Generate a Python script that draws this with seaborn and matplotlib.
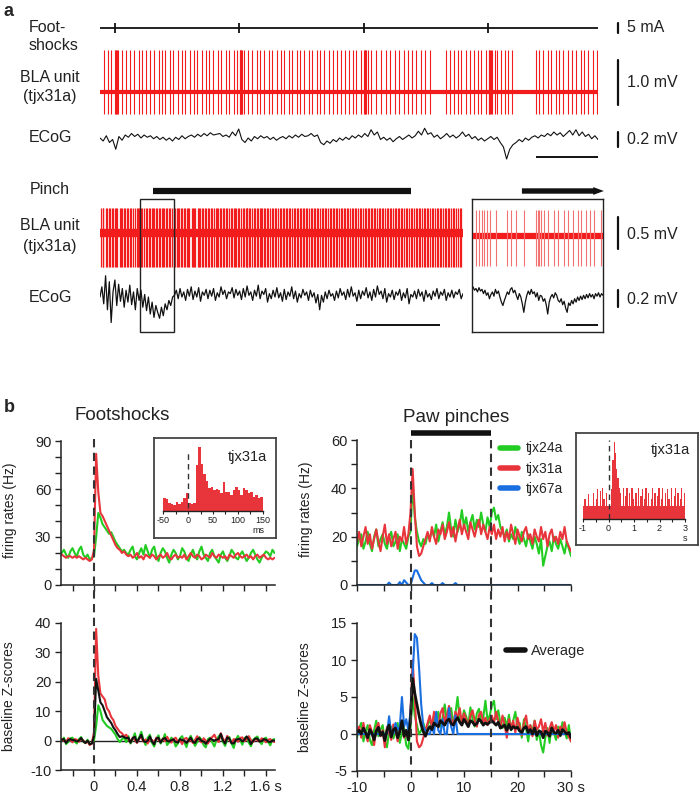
"""BLA unit responses to footshocks and paw pinches (raw traces + PSTHs)."""

import matplotlib

matplotlib.use("Agg")
import matplotlib.pyplot as plt
import numpy as np
import pandas as pd
import seaborn as sns
from matplotlib.lines import Line2D
from matplotlib.patches import Rectangle
from matplotlib.transforms import blended_transform_factory as blend

FIG_W, FIG_H = 700, 798
RED, GREEN, BLUE, BLACK = "#e8353c", "#22cc22", "#1a6fe0", "#111111"
TRACE_RED = "#f21c1c"
PALE_RED = "#f27272"

# ---------------- panel a : raw traces ----------------
TOP_DURATION_S = 40.0
SHOCK_TIMES_S = [1.2, 11.2, 21.2, 31.2]
TOP_SPIKES_S = [
    0.3, 0.62, 0.9, 1.21, 1.25, 1.3, 1.36, 1.48, 1.8, 2.1, 2.44, 2.72, 3.1, 3.4, 3.68, 4.04, 4.32,
    4.7, 5.0, 5.26, 5.64, 5.9, 6.24, 6.6, 6.82, 7.2, 7.56, 7.8, 8.16, 8.5, 8.74, 9.1, 9.44, 9.72,
    10.1, 10.4, 10.76, 11.0, 11.21, 11.25, 11.3, 11.34, 11.44, 11.6, 11.92, 12.24, 12.6, 12.84,
    13.2, 13.56, 13.8, 14.2, 14.5, 14.8, 15.16, 15.4, 15.8, 16.1, 16.4, 16.76, 17.04, 17.4, 17.7,
    18.0, 18.4, 18.68, 19.0, 19.36, 19.64, 20.0, 20.3, 20.6, 20.96, 21.21, 21.25, 21.3, 21.36,
    21.5, 21.8, 22.2, 22.6, 23.0, 23.32, 23.7, 24.0, 24.4, 24.7, 25.1, 25.4, 25.8, 26.1, 26.5,
    27.8, 28.1, 28.4, 28.76, 29.0, 29.4, 29.72, 30.0, 30.36, 30.64, 31.0, 31.21, 31.26, 31.32,
    31.4, 31.52, 31.7, 31.9, 32.2, 32.5, 32.8, 33.1, 35.0, 35.3, 35.6, 35.96, 36.24, 36.6, 36.9,
    37.2, 37.6, 37.9, 38.2, 38.6, 38.9, 39.2, 39.6, 39.9,
]
TOP_SPIKE_UP_MV, TOP_SPIKE_DOWN_MV = 0.93, -0.49
ECOG_TOP_UV = [
    0, -40, 30, -60, -20, -150, 20, -30, 40, 10, 60, 20, 50, 0, 40, 10, 30, -10, 20, -20, 10, -30,
    0, -40, 10, -20, 30, -10, 20, 40, 10, 50, 20, 60, 30, 70, 40, 50, 60, 20, 40, 10, 80, 30, 120,
    -20, -60, 0, -40, 20, -10, 30, 0, 20, -20, 10, -30, 0, 20, -10, 30, 0, 40, 10, 50, 20, 30, 60,
    20, 40, -60, -90, -40, -70, -20, -50, 0, -30, 10, -20, 30, 0, 40, 10, 60, 20, 110, 40, 80, -20,
    10, -30, 0, -50, -10, 20, -20, 10, 40, 0, 30, 90, 40, 130, 50, 70, 10, 40, -10, 20, 60, 10, 40,
    0, 30, 80, 20, 50, -10, 20, -30, 0, -40, -10, 20, -20, 10, -60, -120, -280, -150, -90, -60,
    -20, -50, 0, -30, 10, 30, 0, 40, 20, 60, 30, 80, 40, 70, 20, 60, 100, 40, 110, 30, 80, 20, 50,
    -10, 30, -20,
]
TOP_TIME_BAR_S = 5.0

PINCH_DURATION_S = 43.0
PINCH_ON_S, PINCH_OFF_S = 6.3, 36.8
PINCH_SPIKES_S = [
    0.12, 0.3, 0.41, 0.66, 0.8, 1.02, 1.15, 1.38, 1.5, 1.77, 1.9, 2.05, 2.31, 2.45, 2.6, 2.88, 3.0,
    3.22, 3.35, 3.6, 3.71, 3.95, 4.1, 4.33, 4.5, 4.62, 4.9, 5.02, 5.2, 5.45, 5.58, 5.8, 5.93, 6.15,
    6.3, 6.42, 6.6, 6.74, 6.95, 7.1, 7.3, 7.42, 7.6, 7.85, 7.97, 8.2, 8.33, 8.5, 8.78, 8.9, 9.1,
    9.25, 9.4, 9.62, 9.75, 9.98, 10.1, 10.3, 10.45, 10.6, 10.85, 11.0, 11.18, 11.3, 11.55, 11.7,
    11.88, 12.05, 12.2, 12.42, 12.55, 12.8, 12.92, 13.15, 13.3, 13.45, 13.7, 13.82, 14.0, 14.2,
    14.35, 14.6, 14.72, 14.95, 15.1, 15.25, 15.5, 15.62, 15.85, 16.0, 16.15, 16.4, 16.52, 16.75,
    16.9, 17.1, 17.25, 17.4, 17.45, 17.6, 17.8, 17.95, 18.2, 18.32, 18.55, 18.7, 18.9, 19.05, 19.2,
    19.45, 19.6, 19.8, 19.95, 20.1, 20.35, 20.5, 20.7, 20.85, 21.05, 21.3, 21.42, 21.65, 21.8,
    22.0, 22.15, 22.4, 22.55, 22.7, 22.95, 23.1, 23.3, 23.45, 23.7, 23.82, 24.05, 24.2, 24.4,
    24.55, 24.8, 24.95, 25.1, 25.35, 25.5, 25.7, 25.85, 26.05, 26.3, 26.42, 26.65, 26.8, 27.0,
    27.2, 27.35, 27.6, 27.75, 27.95, 28.1, 28.3, 28.5, 28.65, 28.9, 29.05, 29.25, 29.4, 29.6,
    29.8, 30.0, 30.2, 30.35, 30.6, 30.75, 30.95, 31.1, 31.35, 31.5, 31.7, 31.85, 32.1, 32.25,
    32.45, 32.6, 32.85, 33.0, 33.2, 33.4, 33.55, 33.8, 33.95, 34.15, 34.3, 34.5, 34.7, 34.9,
    35.05, 35.3, 35.45, 35.65, 35.8, 36.05, 36.2, 36.4, 36.6, 36.8, 37.0, 37.2, 37.4, 37.55, 37.8,
    37.95, 38.15, 38.35, 38.5, 38.75, 38.9, 39.1, 39.3, 39.5, 39.65, 39.9, 40.05, 40.25, 40.45,
    40.6, 40.85, 41.0, 41.2, 41.4, 41.55, 41.8, 41.95, 42.2, 42.35, 42.6, 42.8,
]
PINCH_SPIKE_UP_MV, PINCH_SPIKE_DOWN_MV = 0.39, -0.53
ECOG_PINCH_UV = [
    0, 120, -80, 250, -150, 180, -300, 60, 200, -100, 150, -50, 100, -120, 80, -60, 140, -90, 60,
    -150, 100, -40, 80, -120, 30, -160, 0, -200, -60, -240, -100, -180, -250, -120, -220, -80,
    -150, -40, -100, 0, 20, 80, -20, 100, 0, 60, -40, 90, 10, 120, -30, 70, 0, 110, -50, 60, 20,
    90, -20, 80, 10, 100, -40, 50, 0, 120, 30, 80, -20, 60, 40, 110, -10, 90, 20, 70, -30, 100, 0,
    130, 20, 60, -40, 80, 10, 140, -20, 70, 30, 100, -60, 40, -20, 80, 0, 110, -10, 50, -50, 90,
    -30, 60, 10, 120, -20, 70, -60, 40, -10, 90, 20, 60, -40, 80, 0, 50, -70, 30, -150, 20, -60,
    60, -20, 80, 10, 40, -40, 70, -10, 100, 20, 60, -30, 90, 0, 120, 10, 50, -50, 80, -20, 70, 20,
    110, -10, 60, -40, 90, 0, 130, 30, 70, -20, 100, -60, 40, 0, 80, -30, 60, 20, 90, -40, 50,
    -10, 100, -80, 30, 0, 70, -20, 90, 10, 60, -50, 80, 0, 40, -30, 70, 10, 100, -20, 60, 20, 90,
    -40, 50, 0, 80, -10, 60, 30, 90, -20, 40,
]
PINCH_TIME_BAR_S = (30.3, 40.3)

BOX_START_S, BOX_LEN_S = 4.75, 4.06
BOX_ARROW_S = (1.56, 4.12)
BOX_SPIKES_S = [
    0.09, 0.19, 0.28, 0.34, 0.44, 0.53, 0.72, 1.06, 1.19, 1.34, 1.59, 1.97, 2.03, 2.06, 2.13, 2.22,
    2.34, 2.53, 2.66, 2.84, 2.97, 3.13, 3.28, 3.38, 3.53, 3.66, 3.78, 4.0,
]
BOX_SPIKE_UP_MV, BOX_SPIKE_DOWN_MV = 0.40, -0.47
ECOG_BOX_UV = [
    120, 80, 100, 60, 110, 70, 90, 40, 80, 20, 50, -20, 30, 60, 10, 90, 40, 70, 0, -60, -100, -40,
    10, 60, 30, 90, 110, 50, 80, 20, -30, 40, 0, -80, -180, -60, 20, 70, 30, 90, 40, 60, 0, 50,
    -40, 20, 10, -50, -20, -90, -200, -60, 0, 30, -10, 50, 20, -40, -60, -20, -90, -50, -130,
    -180, -70, -100, -40, -80, -20, -60, 0, -40, 10, -30, 20, -20, 30, -10, 40, 0, 30, -20, 40,
    10, 50, 0, 40, 20,
]
BOX_TIME_BAR_S = (2.9, 3.9)

# ---------------- panel b : footshock PSTHs (20 ms bins) ----------------
FS_START_S, FS_STEP_S = -0.30, 0.02
FS_RATE_24A = [
    20, 22, 19, 17, 21, 23, 20, 18, 22, 24, 19, 17, 19, 16, 17,
    18, 30, 45, 42, 38, 36, 34, 32, 33, 30, 27, 25, 23, 21, 22, 20,
    19, 22, 24, 18, 16, 20, 23, 19, 25, 21, 17, 22, 24, 18, 15, 20, 23, 21, 17, 14, 19, 22, 20,
    16, 18, 23, 21, 17, 15, 19, 22, 18, 16, 21, 24, 19, 17, 15, 20, 22, 18, 16, 14, 19, 21, 17,
    15, 18, 22, 20, 17, 16, 19, 21, 18, 15, 17, 20, 22, 19, 16, 14, 17, 19, 21, 20, 18, 22, 20,
]
FS_RATE_31A = [
    19, 18, 17, 18, 18, 17, 18, 17, 18, 17, 16, 17, 16, 15, 16,
    22, 82, 58, 45, 43, 40, 37, 34, 31, 28, 25, 23, 22, 20, 21, 19,
    18, 19, 17, 18, 20, 17, 18, 16, 19, 18, 17, 19, 18, 16, 18, 19, 17, 18, 20, 17, 16, 18, 19,
    17, 18, 17, 19, 16, 18, 20, 18, 17, 19, 18, 16, 17, 19, 18, 17, 20, 18, 17, 19, 18, 17, 18,
    16, 19, 18, 17, 19, 20, 18, 17, 18, 19, 17, 18, 16, 18, 19, 17, 18, 19, 17, 16, 17, 16, 17,
]
FS_Z_24A = [
    0, 1, -1.2, -0.5, 0.8, 1, -0.3, -1, 0.5, 1.2, -0.4, -0.9, 0.3, -1.3, -0.8,
    0, 5, 12, 10, 7, 6, 5, 4.5, 4, 3, 2, 0.5, -0.5, 0.5, 1, -0.5,
    1.5, -1, 0.5, 2.5, -0.5, 1, 3, 0.2, -1.5, 1, 2, -0.8, -2, 0.5, 1.8, -1, 0.3, 2.2, -1.5, -0.6,
    1, 0.2, -2, -1, 0.8, 1.5, -0.5, -2.2, 0.4, 1.6, 0, -1.8, -0.5, 1.2, 0.3, -1.5, -2.3, 0.5, 1,
    -0.6, -2, 0.3, 1.5, 2.2, -0.5, -1.8, 0.6, 1.2, -1, -2.5, 0.4, 1.6, 0.2, -1.4, 0.8, 1.3, -0.7,
    -1.9, 0.2, 0.9, 1.4, -0.3, -1.2, 0.6, 1, -0.5, -1.6, 0.3, 0.5,
]
FS_Z_31A = [
    0.5, 0, -0.5, 0.8, 0.2, -0.6, 0.5, 0.3, -0.4, 0.6, 0, -0.8, -0.3, -1.5, -1,
    3, 38, 22, 16, 15, 14, 11, 10, 8, 7, 5, 4, 3, 2.5, 1.5, 2,
    0.5, -0.5, 1, 0.2, -0.8, 0.6, 1.2, -0.3, 0.4, -1, 0.8, 0.2, -0.6, 1, 0.3, -0.5, 0.7, -0.2,
    1.3, 0, -0.7, 0.5, 1, -0.4, 0.2, -1.2, 0.6, 0.9, -0.3, 0.4, -0.8, 0.2, 1.5, 0.3, -0.6, 0.8,
    0, -1, 0.5, 1.2, 2, 0.4, -0.5, 2.5, 0.6, -0.3, 1.6, 0.2, -0.8, 0.5, 0.3, -0.4, 0.9, 1.1,
    -0.2, 0.4, 1.5, 0.2, -0.5, 0.6, 0.1, -0.3, 0.8, 0.2, -0.6, 0.3, 0.5, -0.2, -0.5,
]
FS_Z_AVG = [
    0.3, 0.5, -0.8, 0.1, 0.5, 0.2, 0.1, -0.3, 0, 0.9, -0.2, -0.8, 0, -1.2, -1,
    1.5, 21, 17, 13, 12, 10, 8, 7, 6, 4.5, 3.5, 2.2, 1.2, 1.5, 1.2, 0.8,
    1, -0.7, 0.8, 1.3, -0.6, 0.8, 2, -0.1, -0.5, 0, 1.4, -0.3, -1.3, 0.7, 1, -0.7, 0.5, 0.9,
    -0.1, -0.3, 0.2, 0.4, -0.5, -0.7, 0.5, 0.2, 0, -0.8, 0.1, 1, -0.4, -0.8, 0.5, 0.8, -0.1,
    -0.3, -1.1, -0.2, 0.7, 0.3, 0, 0.3, 0.5, 2.3, 0, -1, 1.1, 0.7, -0.9, -1, 0.3, 0.5, 0.5, -0.3,
    0.3, 1.4, 0.4, -1.2, -0.1, 0.7, 0.7, -0.3, -0.2, 0.5, 0.3, -0.3, -0.5, 0, 0,
]

# ---------------- panel b : paw-pinch PSTHs (0.4 s bins) ----------------
PP_START_S, PP_STEP_S = -10.0, 0.4
PINCH_WINDOW_S = (0.0, 15.0)
PP_RATE_24A = [
    16, 19, 21, 15, 18, 22, 17, 14, 20, 23, 16, 19, 21, 17, 15, 20, 22, 16, 18, 21, 14, 19, 17, 15,
    20, 22, 42, 28, 22, 18, 16, 19,
    17, 21, 19, 23, 20, 25, 18, 22, 26, 21, 24, 30, 23, 20, 27, 22, 25, 31, 24, 28, 22, 26, 29, 23,
    27, 24, 30, 25, 22, 28, 24,
    30, 32, 27, 29, 24, 22, 20, 23, 18, 21, 19, 24, 20, 17, 22, 19, 16, 21, 18, 15, 20, 17, 13, 19,
    8, 12, 16, 18, 14, 20, 17, 15, 19, 16, 13, 18, 15, 12,
]
PP_RATE_31A = [
    18, 22, 16, 20, 24, 17, 21, 15, 19, 23, 18, 14, 20, 25, 17, 21, 16, 19, 22, 15, 20, 18, 24, 17,
    21, 30, 48, 30, 16, 12, 13, 16,
    19, 22, 18, 24, 20, 17, 23, 21, 25, 19, 22, 26, 20, 24, 18, 23, 27, 21, 25, 22, 19, 26, 23, 20,
    24, 27, 21, 25, 22, 19, 24,
    21, 25, 19, 23, 20, 24, 18, 22, 19, 25, 21, 17, 23, 20, 18, 22, 24, 19, 21, 17, 23, 20, 18, 24,
    19, 22, 16, 21, 23, 18, 20, 17, 22, 19, 24, 18, 16, 14,
]
PP_RATE_67A = [
    0, 0, 0, 0, 0, 0, 0, 0, 0, 0, 0, 0, 0, 0, 0, 1, 0, 0, 0, 0, 1.2, 0, 2, 1, 0,
    0, 3, 6, 6, 4, 2, 1, 0, 0, 0, 0.8, 0, 0, 0, 0, 0.8, 0, 0, 0, 0, 0, 0.8, 0, 0, 0,
    0, 0, 0, 0, 0, 0, 0, 0, 0, 0, 0, 0, 0, 0, 0, 0, 0, 0, 0, 0, 0, 0, 0, 0, 0,
    0, 0, 0, 0, 0, 0, 0, 0, 0, 0, 0, 0, 0, 0, 0, 0, 0, 0, 0, 0, 0, 0, 0, 0, 0, 0,
]
PP_Z_24A = [
    -0.5, 0.8, 1.5, -1, 0.3, 1.2, -0.8, -1.5, 0.5, 1.8, -0.3, 0.6, 1.2, -1, -1.8, 0.4, 1, -0.6,
    0.3, 1.5, -1.2, 0.2, 0.8, -1.5, -2,
    1, 5, 2.5, 1.2, 0, 0.5, 1.5,
    0.3, 1.2, 2, 0.8, 2.5, 1.5, 3, 1, 2.2, 4, 1.5, 2.6, 3.5, 1.2, 2.8, 5, 2, 1.5, 3.2, 2.4, 1.2,
    3.6, 2, 1, 2.8, 3.4, 1.5, 2.2, 4.5, 1.8, 2.5,
    3.8, 4.5, 2, 3.2, 1.5, 0.8, 2.2, 1, 2.6, 0.5, 1.8, 3, 0.8, 1.5, -0.5, 2, 0.8, -1, 1.2, 0.3,
    1.8, -0.8, 0.5, -1.5, -2.5, -0.5, 0.8, -1.2, 1.5, 0.2, -0.8, 1, -0.3, 1.6, 0.4, -0.6, 1.2, -1,
]
PP_Z_31A = [
    0.5, 1, -0.5, 1.5, 0, -1, 1.2, 0.3, -1.5, 0.8, 1.5, -0.3, 0.5, -1.8, 1, 0.2, -0.8, 1.3, 0.5,
    -1, 0.8, 1.6, -0.5, 0.3, -0.8,
    3, 10, 5, -1, -1.8, -1.5, -0.5,
    0.5, 1.5, 2.5, 1, 3, 1.8, 0.8, 2.8, 3.5, 1.5, 2.5, 3.8, 2, 1.2, 3, 2.2, 3.5, 1.5, 2.8, 2, 1,
    2.5, 3.2, 1.8, 1, 2.6, 3, 1.5, 2.2, 1.2, 2,
    2.5, 1.5, 3, 1.8, 0.8, 2.5, 1.2, -0.5, 2, 0.8, 1.8, 0.2, 2.2, 1, -0.2, 1.5, 2.5, 0.5, 1.2,
    -0.3, 1.8, 0.6, 1, 2, 0.3, 1.5, -0.2, 0.8, 1.6, 0.4, 1.2, -0.5, 1, 0.3, 1.6, 0.2, -0.4, -1,
]
PP_Z_67A = [
    0, 0, 0, 0, 0, 0, 0, 0, 0, 0, 0, 0, 0, 0, 0, 2.4, 0, 0, 1.5, 0.5, 1, 5, 1, 2, 0.5,
    3, 8, 13.5, 13, 9, 4, 1, 0.5, 0, 0, 1, 0, 3, 0.5, 0, 2, 0, 0, 3.5, 1, 0, 2.5, 0, 0, 0,
    0, 0, 0, 0, 0, 0, 0, 0, 0, 0, 0, 0, 0, 0, 0, 0, 0, 0, 0, 0, 0, 0, 0, 0, 0,
    0, 0, 0, 0, 0, 0, 0, 0, 0, 0, 0, 0, 0, 0, 0, 0, 0, 0, 0, 0, 0, 0, 0, 0, 0, 0,
]
PP_Z_AVG = [
    0.2, 0.5, 0, 0.8, 0.2, -0.5, 0.6, 0.1, -0.8, 0.4, 0.9, -0.2, 0.3, -0.9, 0.5, 1.2, -0.4, 0.6,
    0.8, -0.5, 0.3, 1.8, -0.3, 0.5, -0.8,
    2, 7.5, 5.5, 4, 2.5, 1.2, 0.3,
    -0.3, 0.5, 1, 0.6, 1.5, 1.2, 1, 1.8, 1.5, 1.2, 1.8, 2, 1.4, 1.2, 1.8, 2.2, 1.6, 1.2, 2, 1.5,
    1, 1.8, 1.6, 1.2, 1.4, 2, 1.7, 1.2, 1.5, 1.3, 1.6,
    1.8, 1.5, 1.2, 1.6, 0.8, 1, 1.2, 0.5, 1.3, 0.6, 1, 0.8, 0.9, 0.4, 0.2, 0.8, 1, 0.2, 0.6, 0,
    0.8, -0.2, 0.4, 0.3, -0.5, 0.4, 0.2, -0.3, 0.8, 0.2, 0.1, 0.5, -0.2, 0.6, 0.3, 0, 0.2, -0.5,
]

# ---------------- insets : tjx31a PSTHs ----------------
INSET_FS_START_MS, INSET_FS_BIN_MS = -50, 5
INSET_FS_COUNTS = [
    38, 35, 25, 20, 18, 28, 20, 28, 38, 53, 25, 22, 25, 138, 193, 143, 113, 90, 70, 73,
    63, 65, 63, 55, 88, 58, 58, 48, 63, 73, 63, 48, 68, 63, 53, 58, 43, 48, 38, 43,
]
INSET_PP_START_S, INSET_PP_BIN_S = -1.0, 0.05
INSET_PP_COUNTS = [
    38, 60, 38, 38, 75, 38, 38, 38, 80, 38, 60, 90, 38, 85, 38, 95, 60, 38, 80, 38,
    28, 38, 90, 180, 233, 200, 150, 125, 95, 80, 38, 95, 38, 70, 95, 38, 80, 38, 95, 60,
    38, 80, 38, 95, 38, 70, 90, 38, 60, 95, 38, 80, 38, 60, 95, 38, 80, 38, 70, 95,
    38, 60, 95, 38, 80, 38, 90, 60, 38, 95, 38, 70, 95, 38, 80, 38, 60, 95, 38, 80,
]

UNIT_COLORS = {"tjx24a": GREEN, "tjx31a": RED, "tjx67a": BLUE, "Average": BLACK}


def px_axes(fig, x0, y0, x1, y1):
    """Add an axes given its pixel box (origin top-left)."""
    return fig.add_axes([x0 / FIG_W, 1 - y1 / FIG_H, (x1 - x0) / FIG_W, (y1 - y0) / FIG_H])


def fy(y_px):
    return 1 - y_px / FIG_H


def bare_axes(ax, xlim, ylim):
    ax.set_xlim(*xlim)
    ax.set_ylim(*ylim)
    ax.set_axis_off()


def frame_axes(ax, lw=1.0, color="#222222"):
    ax.set_xticks([])
    ax.set_yticks([])
    ax.patch.set_alpha(0)
    for spine in ax.spines.values():
        spine.set_linewidth(lw)
        spine.set_color(color)


def scale_bar(fig, ax, y0, y1, label, ypos):
    tr = blend(fig.transFigure, ax.transData)
    ax.add_line(Line2D([618 / FIG_W] * 2, [y0, y1], transform=tr, color=BLACK, lw=1.6,
                       clip_on=False))
    ax.text(627 / FIG_W, ypos, label, transform=tr, ha="left", va="center", fontsize=11.5,
            color="#222222")


def draw_unit(ax, spikes, up, down, color, base_lw, spike_lw, base_color=TRACE_RED):
    ax.axhline(0, color=base_color, lw=base_lw)
    ax.vlines(spikes, down, up, color=color, lw=spike_lw)


def draw_ecog(ax, values_uv, duration, lw=0.8):
    t = np.linspace(0, duration, len(values_uv))
    ax.plot(t, np.asarray(values_uv) / 1000.0, color=BLACK, lw=lw)


def trace_frame(start, step, series):
    parts = []
    for name, values in series.items():
        t = start + step * np.arange(len(values))
        parts.append(pd.DataFrame({"t": t, "v": values, "unit": name}))
    return pd.concat(parts, ignore_index=True)


def style_psth_axes(ax):
    sns.despine(ax=ax)
    for side in ("left", "bottom"):
        ax.spines[side].set_linewidth(1.1)
        ax.spines[side].set_color("#222222")
    ax.tick_params(which="both", direction="out", length=4, width=1, colors="#222222",
                   labelsize=10.5, pad=3)
    ax.set_xlabel("")
    ax.set_ylabel("")


def hist_inset(ax, start, width, counts):
    n_bins = len(counts)
    lo, hi = start, start + width * n_bins
    bins = pd.DataFrame({"t": start + width * (np.arange(n_bins) + 0.5), "n": counts})
    sns.histplot(data=bins, x="t", weights="n", binwidth=width, binrange=(lo, hi), color=RED,
                 alpha=1, edgecolor="none", linewidth=0, ax=ax)
    ax.set_xlim(lo, hi)
    ax.set_ylim(0, max(counts))
    ax.set_ylabel("")
    ax.set_xlabel("")
    ax.set_yticks([])
    for side in ("left", "top", "right"):
        ax.spines[side].set_visible(False)
    ax.spines["bottom"].set_linewidth(1.0)
    ax.spines["bottom"].set_color("#222222")
    ax.patch.set_alpha(0)
    ax.tick_params(which="both", direction="out", length=2.5, width=0.8, labelsize=6.5, pad=1,
                   colors="#222222")


def main():
    sns.set_theme(style="ticks")
    plt.rcParams["font.family"] = ["Liberation Sans", "DejaVu Sans"]
    plt.rcParams["axes.unicode_minus"] = False

    fig = plt.figure(figsize=(FIG_W / 100, FIG_H / 100), dpi=100)
    fig.patch.set_facecolor("white")

    # ---------------- panel a ----------------
    fig.text(4 / FIG_W, fy(12), "a", fontsize=13, fontweight="bold", va="center", ha="left")
    label_kw = dict(fontsize=11.5, va="center", color="#222222")
    fig.text(29 / FIG_W, fy(28), "Foot-", ha="left", **label_kw)
    fig.text(29 / FIG_W, fy(45), "shocks", ha="left", **label_kw)
    fig.text(50 / FIG_W, fy(77), "BLA unit", ha="center", **label_kw)
    fig.text(50 / FIG_W, fy(96), "(tjx31a)", ha="center", **label_kw)
    fig.text(50 / FIG_W, fy(138), "ECoG", ha="center", **label_kw)
    fig.text(50 / FIG_W, fy(189), "Pinch", ha="center", **label_kw)
    fig.text(50 / FIG_W, fy(226), "BLA unit", ha="center", **label_kw)
    fig.text(50 / FIG_W, fy(247), "(tjx31a)", ha="center", **label_kw)
    fig.text(50 / FIG_W, fy(298), "ECoG", ha="center", **label_kw)

    ax = px_axes(fig, 100, 18, 598, 38)
    bare_axes(ax, (0, TOP_DURATION_S), (-1, 1))
    ax.axhline(0, color=BLACK, lw=1.3)
    ax.vlines(SHOCK_TIMES_S, -0.5, 0.5, color=BLACK, lw=1.3)
    scale_bar(fig, ax, -0.5, 0.5, "5 mA", 0)

    ax = px_axes(fig, 100, 45, 598, 120)
    bare_axes(ax, (0, TOP_DURATION_S), (-0.62, 1.05))
    draw_unit(ax, TOP_SPIKES_S, TOP_SPIKE_UP_MV, TOP_SPIKE_DOWN_MV, TRACE_RED, 3.0, 0.8)
    scale_bar(fig, ax, -0.29, 0.71, "1.0 mV", 0.21)

    ax = px_axes(fig, 100, 120, 598, 162)
    bare_axes(ax, (0, TOP_DURATION_S), (-0.32, 0.24))
    draw_ecog(ax, ECOG_TOP_UV, TOP_DURATION_S)
    ax.hlines(-0.253, TOP_DURATION_S - TOP_TIME_BAR_S, TOP_DURATION_S, color=BLACK, lw=1.4)
    scale_bar(fig, ax, -0.12, 0.08, "0.2 mV", -0.025)

    # pinch, compressed time
    ax = px_axes(fig, 100, 185, 463, 197)
    bare_axes(ax, (0, PINCH_DURATION_S), (-1, 1))
    ax.hlines(0, PINCH_ON_S, PINCH_OFF_S, color=BLACK, lw=4.5)

    ax_pu = px_axes(fig, 100, 200, 463, 272)
    bare_axes(ax_pu, (0, PINCH_DURATION_S), (-0.61, 0.515))
    draw_unit(ax_pu, PINCH_SPIKES_S, PINCH_SPIKE_UP_MV, PINCH_SPIKE_DOWN_MV, TRACE_RED, 6, 0.9)
    ax_pu.add_patch(Rectangle((BOX_START_S, fy(332)), BOX_LEN_S, fy(199) - fy(332),
                              transform=blend(ax_pu.transData, fig.transFigure), fill=False,
                              edgecolor="#222222", lw=1.0, clip_on=False, zorder=5))

    ax = px_axes(fig, 100, 275, 463, 330)
    bare_axes(ax, (0, PINCH_DURATION_S), (-0.388, 0.259))
    draw_ecog(ax, ECOG_PINCH_UV, PINCH_DURATION_S, lw=0.9)
    ax.hlines(-0.33, *PINCH_TIME_BAR_S, color=BLACK, lw=1.4)

    # pinch, expanded window
    frame_axes(px_axes(fig, 472, 199, 603, 332))
    ax = px_axes(fig, 472, 185, 612, 197)
    bare_axes(ax, (0, 140 / 32), (-1, 1))
    ax.arrow(BOX_ARROW_S[0], 0, BOX_ARROW_S[1] - BOX_ARROW_S[0], 0, width=0.9, head_width=1.3,
             head_length=0.33, length_includes_head=True, color=BLACK, lw=0)

    ax = px_axes(fig, 473, 205, 603, 272)
    bare_axes(ax, (0, BOX_LEN_S), (-0.5625, 0.484))
    draw_unit(ax, BOX_SPIKES_S, BOX_SPIKE_UP_MV, BOX_SPIKE_DOWN_MV, PALE_RED, 4.5, 0.8)
    scale_bar(fig, ax, -0.203, 0.297, "0.5 mV", 0.03)

    ax = px_axes(fig, 473, 275, 603, 330)
    bare_axes(ax, (0, BOX_LEN_S), (-0.388, 0.259))
    draw_ecog(ax, ECOG_BOX_UV, BOX_LEN_S, lw=0.9)
    ax.hlines(-0.33, *BOX_TIME_BAR_S, color=BLACK, lw=1.4)
    scale_bar(fig, ax, -0.118, 0.082, "0.2 mV", -0.024)

    # ---------------- panel b ----------------
    fig.text(4 / FIG_W, fy(408), "b", fontsize=13, fontweight="bold", va="center", ha="left")
    fig.text(122 / FIG_W, fy(415), "Footshocks", fontsize=13.5, ha="center", va="center",
             color="#222222")
    fig.text(456 / FIG_W, fy(417), "Paw pinches", fontsize=13.5, ha="center", va="center",
             color="#222222")

    fs_x = (-0.307, 1.684)
    fs_major = [0, 0.4, 0.8, 1.2, 1.6]
    fs_minor = [-0.2, 0.2, 0.6, 1.0, 1.4]
    pp_major = [-10, 0, 10, 20, 30]
    pp_minor = [-5, 5, 15, 25]

    ax_lt = px_axes(fig, 61, 441, 275, 585)
    df = trace_frame(FS_START_S, FS_STEP_S, {"tjx24a": FS_RATE_24A, "tjx31a": FS_RATE_31A})
    sns.lineplot(data=df, x="t", y="v", hue="unit", palette=UNIT_COLORS, estimator=None,
                 lw=1.5, legend=False, ax=ax_lt)
    ax_lt.set_xlim(*fs_x)
    ax_lt.set_ylim(0, 90)
    ax_lt.set_xticks(fs_major)
    ax_lt.set_xticks(fs_minor, minor=True)
    ax_lt.set_yticks([0, 30, 60, 90])
    ax_lt.set_yticks([10, 20, 40, 50, 70, 80], minor=True)
    style_psth_axes(ax_lt)
    ax_lt.tick_params(labelbottom=False)

    ax_lb = px_axes(fig, 61, 623, 275, 770)
    df = trace_frame(FS_START_S, FS_STEP_S,
                     {"tjx24a": FS_Z_24A, "tjx31a": FS_Z_31A, "Average": FS_Z_AVG})
    ax_lb.axhline(0, color="#222222", lw=1.0, zorder=1)
    sns.lineplot(data=df, x="t", y="v", hue="unit", palette=UNIT_COLORS, estimator=None,
                 lw=1.5, legend=False, ax=ax_lb)
    ax_lb.set_xlim(*fs_x)
    ax_lb.set_ylim(-10, 40)
    ax_lb.set_xticks(fs_major, ["0", "0.4", "0.8", "1.2", "1.6 s"])
    ax_lb.set_xticks(fs_minor, minor=True)
    ax_lb.set_yticks([-10, 0, 10, 20, 30, 40])
    style_psth_axes(ax_lb)

    ax_rt = px_axes(fig, 357, 440, 571, 585)
    df = trace_frame(PP_START_S, PP_STEP_S,
                     {"tjx24a": PP_RATE_24A, "tjx31a": PP_RATE_31A, "tjx67a": PP_RATE_67A})
    sns.lineplot(data=df, x="t", y="v", hue="unit", palette=UNIT_COLORS, estimator=None,
                 lw=1.5, legend=False, ax=ax_rt)
    ax_rt.set_xlim(-10, 30)
    ax_rt.set_ylim(0, 60)
    ax_rt.set_xticks(pp_major)
    ax_rt.set_xticks(pp_minor, minor=True)
    ax_rt.set_yticks([0, 20, 40, 60])
    ax_rt.set_yticks([10, 30, 50], minor=True)
    style_psth_axes(ax_rt)
    ax_rt.tick_params(labelbottom=False)
    ax_rt.hlines(62.9, *PINCH_WINDOW_S, color=BLACK, lw=4, clip_on=False)
    handles = [Line2D([], [], color=UNIT_COLORS[u], lw=4) for u in ("tjx24a", "tjx31a", "tjx67a")]
    ax_rt.legend(handles, ["tjx24a", "tjx31a", "tjx67a"], loc="upper left",
                 bbox_to_anchor=(0.668, 0.99), frameon=False, fontsize=10, handlelength=1.3,
                 handletextpad=0.6, labelspacing=0.45, borderpad=0, borderaxespad=0)

    ax_rb = px_axes(fig, 357, 623, 571, 771)
    df = trace_frame(PP_START_S, PP_STEP_S, {"tjx24a": PP_Z_24A, "tjx31a": PP_Z_31A,
                                             "tjx67a": PP_Z_67A, "Average": PP_Z_AVG})
    ax_rb.axhline(0, color="#222222", lw=1.0, zorder=1)
    sns.lineplot(data=df, x="t", y="v", hue="unit", palette=UNIT_COLORS, estimator=None,
                 lw=1.5, legend=False, ax=ax_rb)
    for line in ax_rb.get_lines()[-1:]:
        line.set_linewidth(2.0)
    ax_rb.set_xlim(-10, 30)
    ax_rb.set_ylim(-5, 15)
    ax_rb.set_xticks(pp_major, ["-10", "0", "10", "20", "30 s"])
    ax_rb.set_xticks(pp_minor, minor=True)
    ax_rb.set_yticks([-5, 0, 5, 10, 15])
    style_psth_axes(ax_rb)
    ax_rb.legend([Line2D([], [], color=BLACK, lw=4)], ["Average"], loc="upper left",
                 bbox_to_anchor=(0.696, 0.86), frameon=False, fontsize=10.5, handlelength=1.3,
                 handletextpad=0.4, borderpad=0, borderaxespad=0)

    for ax in (ax_lt, ax_rt):
        ax.set_ylabel("firing rates (Hz)", fontsize=10, color="#222222")
        ax.yaxis.set_label_coords(-0.205, 0.52)
    for ax in (ax_lb, ax_rb):
        ax.set_ylabel("baseline Z-scores", fontsize=10, color="#222222")
        ax.yaxis.set_label_coords(-0.21, 0.5)

    # stimulus-onset dashed lines crossing both rows
    dash_kw = dict(color="#333333", lw=1.5, dashes=(4, 2.6), clip_on=False, zorder=6)
    fig.add_artist(Line2D([0, 0], [fy(439), fy(771)],
                          transform=blend(ax_lt.transData, fig.transFigure), **dash_kw))
    for x in PINCH_WINDOW_S:
        fig.add_artist(Line2D([x, x], [fy(440), fy(771)],
                              transform=blend(ax_rt.transData, fig.transFigure), **dash_kw))

    # insets
    frame = px_axes(fig, 154, 438, 276, 538)
    frame_axes(frame, lw=1.3, color="#444444")
    frame.patch.set_alpha(1)
    frame.set_facecolor("white")
    frame.text(0.926, 0.81, "tjx31a", transform=frame.transAxes, ha="right", va="center",
               fontsize=10.5, color="#222222")
    ins = px_axes(fig, 163, 447, 263, 511)
    hist_inset(ins, INSET_FS_START_MS, INSET_FS_BIN_MS, INSET_FS_COUNTS)
    ins.set_xticks([-50, 0, 50, 100, 150])
    ins.set_xticks([-25, 25, 75, 125], minor=True)
    ins.vlines(0, 9, 184, color="#333333", lw=1.0, linestyles=(0, (4, 3)))
    ins.annotate("ms", xy=(150, 0), xytext=(-3, -14), textcoords="offset points", ha="center",
                 va="center", fontsize=6.5, color="#222222")

    frame = px_axes(fig, 576, 433, 698, 545)
    frame_axes(frame, lw=1.3, color="#444444")
    frame.patch.set_alpha(1)
    frame.set_facecolor("white")
    frame.text(0.934, 0.848, "tjx31a", transform=frame.transAxes, ha="right", va="center",
               fontsize=10.5, color="#222222")
    ins = px_axes(fig, 583, 442, 685, 519)
    hist_inset(ins, INSET_PP_START_S, INSET_PP_BIN_S, INSET_PP_COUNTS)
    ins.set_xticks([-1, 0, 1, 2, 3])
    ins.set_xticks([-0.5, 0.5, 1.5, 2.5], minor=True)
    ins.vlines(0, 0, 240, color="#333333", lw=1.0, linestyles=(0, (4, 3)), clip_on=False)
    ins.annotate("s", xy=(3, 0), xytext=(0, -14), textcoords="offset points", ha="center",
                 va="center", fontsize=6.5, color="#222222")

    fig.savefig("out.png", dpi=100, facecolor="white")
    plt.close(fig)


if __name__ == "__main__":
    main()
